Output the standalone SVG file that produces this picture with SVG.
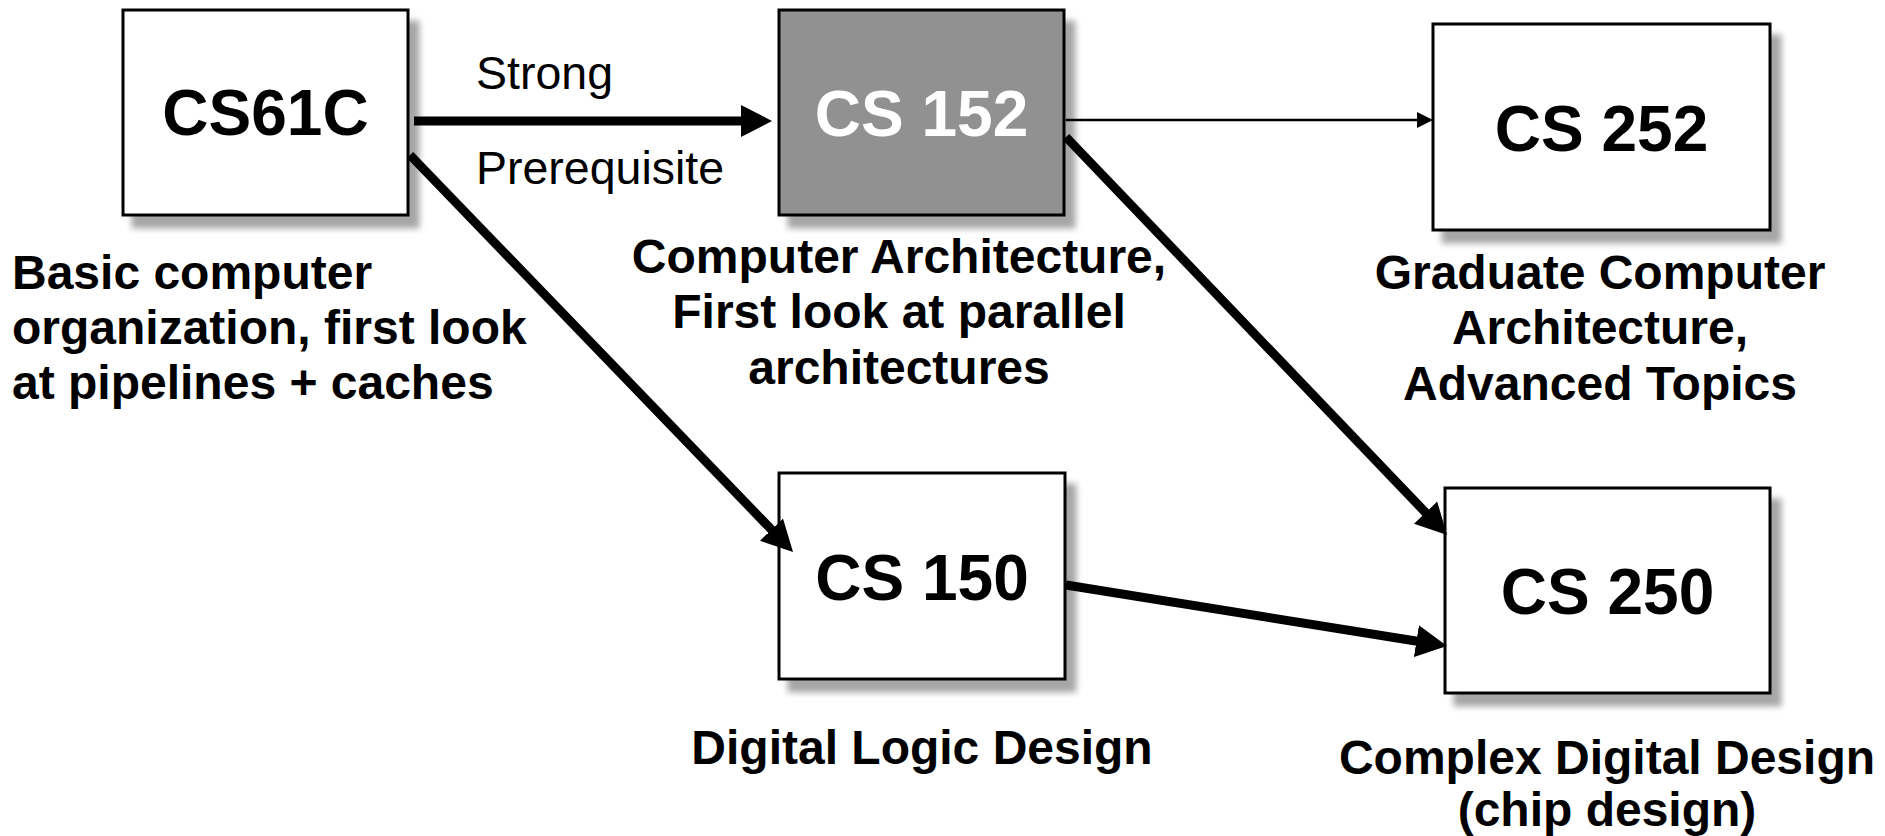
<svg xmlns="http://www.w3.org/2000/svg" width="1885" height="836" viewBox="0 0 1885 836">
<style>
  .box { fill: #ffffff; stroke: #000000; stroke-width: 3; }
  .box.gray { fill: #919191; }
  .code { font-family: "Liberation Sans", Arial, sans-serif; font-weight: bold; font-size: 64px; text-anchor: middle; fill: #000000; }
  .code.white { fill: #ffffff; }
  .desc { font-family: "Liberation Sans", Arial, sans-serif; font-weight: bold; font-size: 48px; fill: #000000; }
  .mid { text-anchor: middle; }
  .lbl { font-family: "Liberation Sans", Arial, sans-serif; font-size: 46.5px; fill: #000000; }
  .thick { stroke: #000000; stroke-width: 9; fill: none; }
  .thin { stroke: #000000; stroke-width: 2.5; fill: none; }
</style>
<defs>
  <filter id="shadow" x="-10%" y="-10%" width="130%" height="130%">
    <feGaussianBlur in="SourceAlpha" stdDeviation="3"/>
    <feOffset dx="10" dy="12" result="o"/>
    <feComponentTransfer><feFuncA type="linear" slope="0.35"/></feComponentTransfer>
    <feMerge><feMergeNode/><feMergeNode in="SourceGraphic"/></feMerge>
  </filter>
  <marker id="headBig" markerUnits="userSpaceOnUse" markerWidth="31" markerHeight="32" viewBox="0 0 31 32" refX="1" refY="16" orient="auto">
    <path d="M0,0 L31,16 L0,32 Z" fill="#000000"/>
  </marker>
  <marker id="headSmall" markerUnits="userSpaceOnUse" markerWidth="16" markerHeight="16" viewBox="0 0 16 16" refX="1" refY="8" orient="auto">
    <path d="M0,0 L16,8 L0,16 Z" fill="#000000"/>
  </marker>
</defs>
<rect width="1885" height="836" fill="#ffffff"/>

<g id="node-cs61c">
  <rect class="box" x="123" y="10" width="285" height="205" filter="url(#shadow)"/>
  <text class="code" x="265.5" y="135">CS61C</text>
  <text class="desc" x="12" y="289">Basic computer</text>
  <text class="desc" x="12" y="344">organization, first look</text>
  <text class="desc" x="12" y="399">at pipelines + caches</text>
</g>

<g id="node-cs152">
  <rect class="box gray" x="779" y="10" width="285" height="205" filter="url(#shadow)"/>
  <text class="code white" x="921.5" y="136">CS 152</text>
  <text class="desc mid" x="899" y="273">Computer Architecture,</text>
  <text class="desc mid" x="899" y="328">First look at parallel</text>
  <text class="desc mid" x="899" y="384">architectures</text>
</g>

<g id="node-cs252">
  <rect class="box" x="1433" y="24" width="337" height="206" filter="url(#shadow)"/>
  <text class="code" x="1601.5" y="151">CS 252</text>
  <text class="desc mid" x="1600" y="289">Graduate Computer</text>
  <text class="desc mid" x="1600" y="344">Architecture,</text>
  <text class="desc mid" x="1600" y="400">Advanced Topics</text>
</g>

<g id="node-cs150">
  <rect class="box" x="779" y="473" width="286" height="206" filter="url(#shadow)"/>
  <text class="code" x="922" y="600">CS 150</text>
  <text class="desc mid" x="922" y="764">Digital Logic Design</text>
</g>

<g id="node-cs250">
  <rect class="box" x="1445" y="488" width="325" height="205" filter="url(#shadow)"/>
  <text class="code" x="1607.5" y="614">CS 250</text>
  <text class="desc mid" x="1607" y="774">Complex Digital Design</text>
  <text class="desc mid" x="1607" y="826">(chip design)</text>
</g>

<g id="connectors">
  <line class="thick" x1="414" y1="121" x2="742" y2="121" marker-end="url(#headBig)"/>
  <text class="lbl" x="476" y="89">Strong</text>
  <text class="lbl" x="476" y="184">Prerequisite</text>
  <line class="thin" x1="1066" y1="120" x2="1418" y2="120" marker-end="url(#headSmall)"/>
  <line class="thick" x1="410" y1="155" x2="772.2" y2="530.4" marker-end="url(#headBig)"/>
  <line class="thick" x1="1066" y1="137" x2="1426.3" y2="513.3" marker-end="url(#headBig)"/>
  <line class="thick" x1="1066" y1="585" x2="1417.4" y2="641.3" marker-end="url(#headBig)"/>
</g>
</svg>
